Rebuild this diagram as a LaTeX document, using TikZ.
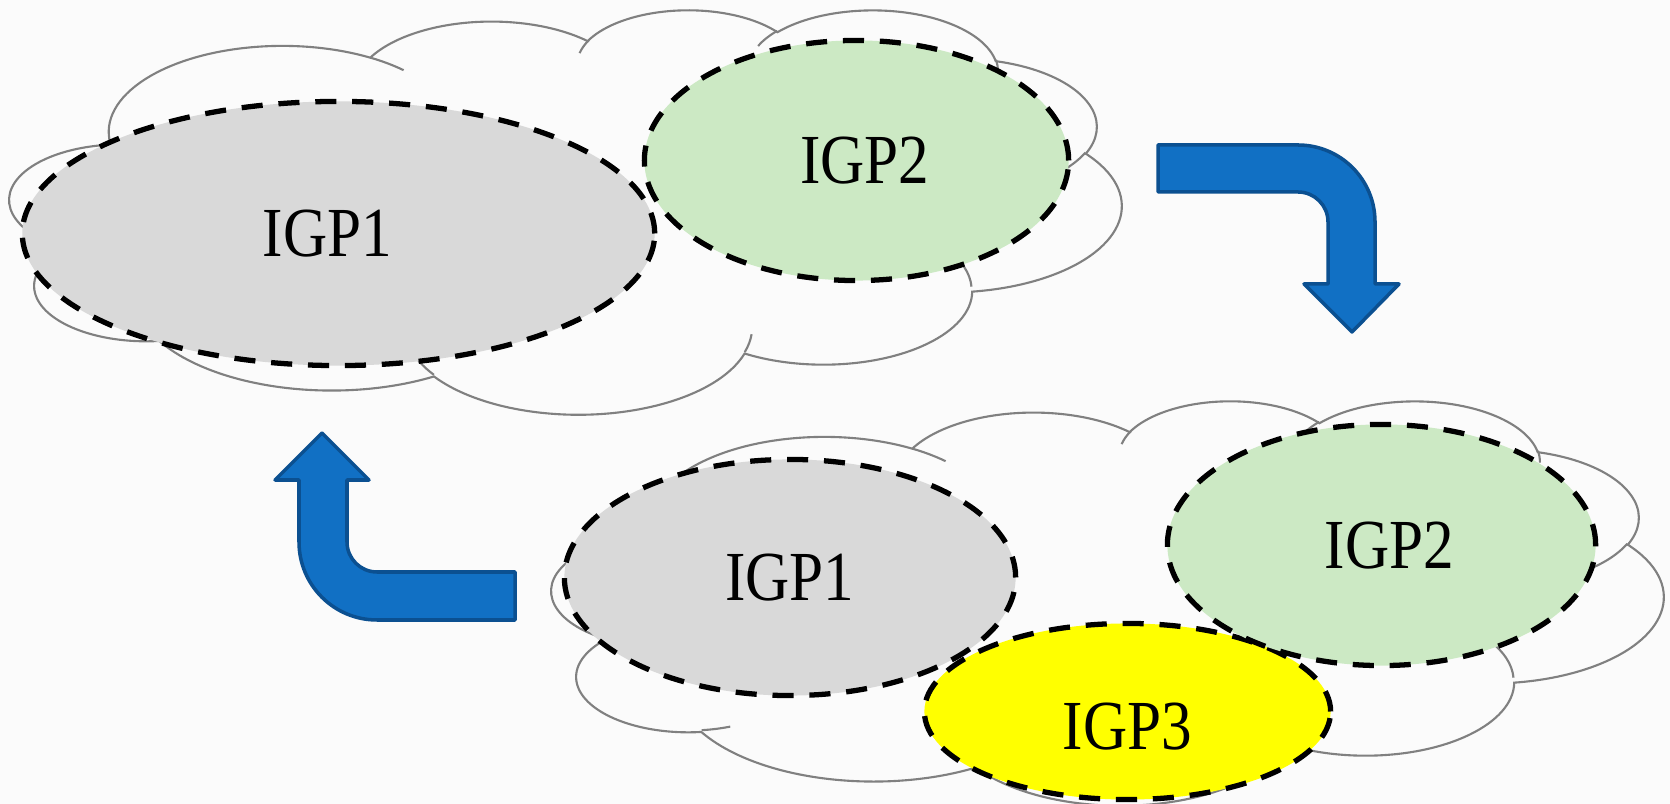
\documentclass[tikz,border=0pt]{standalone}
\usepackage{fontspec}
\newfontfamily\igpfont[FakeStretch=0.87]{Liberation Serif}
\usetikzlibrary{shapes.geometric}

\definecolor{paper}{RGB}{251,251,251}
\definecolor{cloudgray}{RGB}{128,128,128}
\definecolor{igpgray}{RGB}{217,217,217}
\definecolor{igpgreen}{RGB}{204,233,196}
\definecolor{igpyellow}{RGB}{255,255,0}
\definecolor{arrowblue}{RGB}{17,112,196}
\definecolor{arrowedge}{RGB}{11,80,145}

\newcommand{\cloudarc}[4]{arc[x radius=#1, y radius=#2,
  start angle={atan2(#1*sin(#3),#2*cos(#3))},
  delta angle={mod(atan2(#1*sin(#3+#4),#2*cos(#3+#4))-atan2(#1*sin(#3),#2*cos(#3))+720,360)}]}

\newcommand{\pptcloud}[2]{%
\begin{scope}[shift={(#1,#2)}, x=0.025718cm, y=-0.0093519cm]
 \draw[cloudline] (39.00,143.70)
  \cloudarc{67.53}{91.90}{-190.4875}{123.7805}
  \cloudarc{53.33}{72.67}{-144.1024}{89.9452}
  \cloudarc{43.65}{59.45}{-145.8079}{99.7230}
  \cloudarc{48.57}{65.95}{-130.9861}{117.2417}
  \cloudarc{53.33}{72.73}{-78.7089}{109.0269}
  \cloudarc{67.75}{92.20}{-46.2673}{130.2690}
  \cloudarc{57.85}{78.67}{0.6250}{114.0333}
  \cloudarc{67.52}{92.15}{22.4516}{115.1726}
  \cloudarc{77.20}{105.43}{66.2426}{75.7110}
  \cloudarc{43.60}{59.18}{-274.9421}{146.7356}
  \cloudarc{43.45}{59.45}{-246.8285}{152.5189} -- cycle;
 \draw[cloudline]
  (46.93,261.77) \cloudarc{43.45}{59.45}{86.7420}{26.4295}
  (69.28,348.99) \cloudarc{43.60}{59.18}{73.6105}{11.4475}
  (164.78,390.90) \cloudarc{67.52}{92.15}{137.6242}{14.0811}
  (288.27,347.51) \cloudarc{67.52}{92.15}{6.4533}{15.9984}
  (341.29,229.54) \cloudarc{57.85}{78.67}{-70.2924}{66.7306}
  (417.98,153.54) \cloudarc{53.33}{72.73}{30.3180}{27.7515}
  (383.24,54.26) \cloudarc{48.57}{65.95}{-13.7443}{14.8589}
  (290.78,39.52) \cloudarc{48.57}{65.95}{-149.1815}{18.1954}
  (221.41,47.20) \cloudarc{43.65}{59.45}{-163.4943}{17.6864}
  (140.00,51.92) \cloudarc{67.53}{91.90}{-66.7070}{12.3194}
  (41.27,157.89) \cloudarc{67.53}{91.90}{157.6544}{11.8582};
\end{scope}}

\tikzset{
 cloudline/.style={draw=cloudgray, line width=0.6pt},
 igp/.style={ellipse, draw=black, line width=1.5pt, dash pattern=on 6pt off 4.5pt,
   inner sep=0pt, text depth=0pt, font=\igpfont\fontsize{20}{22}\selectfont},
 bentarrow/.style={fill=arrowblue, draw=arrowedge, line width=1pt, line join=round},
}

\begin{document}
\begin{tikzpicture}[x=0.01cm, y=-0.01cm]
\useasboundingbox (0,0) rectangle (1670,804);
\fill[paper] (0,0) rectangle (1670,804);

\pptcloud{10}{9}
\pptcloud{552}{400}

\node[igp, fill=igpgray, minimum width=6.32cm, minimum height=2.64cm] (igp1a) at (338.5,233.5) {IGP1\hspace{0.22cm}\mbox{}};
\node[igp, fill=igpgreen, minimum width=4.24cm, minimum height=2.40cm] (igp2a) at (856.5,160.5) {\hspace{0.17cm}IGP2};

\node[igp, fill=igpyellow, minimum width=4.06cm, minimum height=1.76cm, text height=0.75cm] (igp3b) at (1127.5,711.5) {IGP3};
\node[igp, fill=igpgray, minimum width=4.51cm, minimum height=2.36cm] (igp1b) at (790,577.5) {IGP1};
\node[igp, fill=igpgreen, minimum width=4.28cm, minimum height=2.41cm] (igp2b) at (1381.5,545) {\hspace{0.16cm}IGP2};

\draw[bentarrow] (1158,145) -- (1298,145) arc[start angle=-90, end angle=0, radius=77]
  -- (1375,284) -- (1399,284) -- (1352,332) -- (1304,284) -- (1328,284) -- (1328,222)
  arc[start angle=0, end angle=-90, radius=30] -- (1158,192) -- cycle;

\draw[bentarrow] (515,572) -- (377,572) arc[start angle=90, end angle=180, radius=30]
  -- (347,480) -- (369,480) -- (322,433) -- (275,480) -- (299,480) -- (299,542)
  arc[start angle=180, end angle=90, radius=78] -- (515,620) -- cycle;
\end{tikzpicture}
\end{document}
